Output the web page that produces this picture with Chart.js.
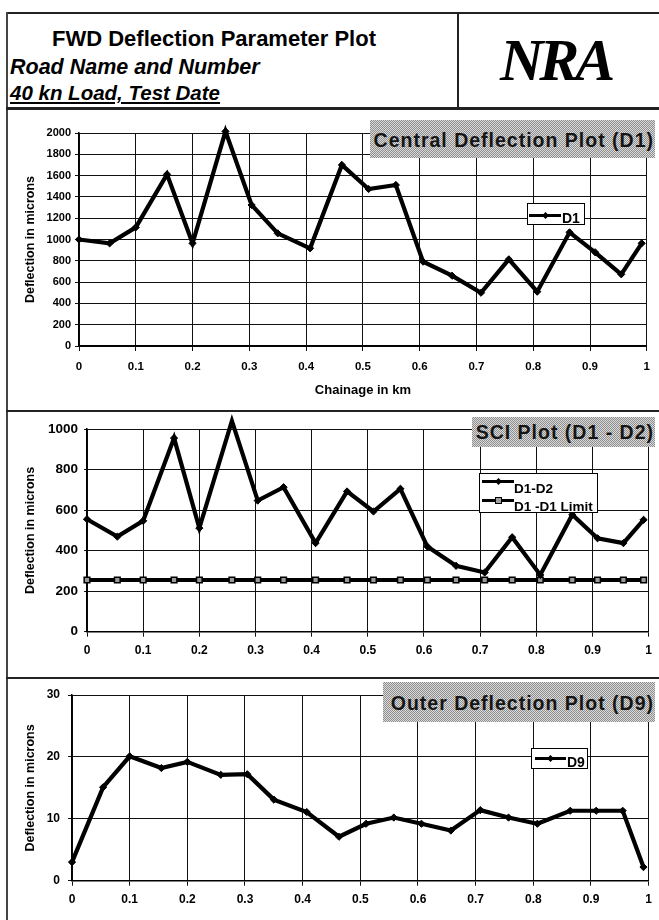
<!DOCTYPE html>
<html><head><meta charset="utf-8">
<script src="https://cdn.jsdelivr.net/npm/chart.js@4.4.0/dist/chart.umd.min.js"></script>
<style>
html,body{margin:0;padding:0;background:#fff;}
#page{position:relative;width:659px;height:920px;overflow:hidden;font-family:'Liberation Sans',Arial,sans-serif;color:#000;}
.ln{position:absolute;background:#222;}
.txt{position:absolute;white-space:nowrap;line-height:1;font-weight:bold;}
canvas{position:absolute;}
.tbox{position:absolute;z-index:5;background-color:#b4b4b4;background-image:repeating-conic-gradient(#8e8e8e 0 25%, #dadada 0 50%);background-size:2px 2px;font-weight:bold;font-size:19.5px;letter-spacing:1px;color:#151515;white-space:nowrap;display:flex;align-items:center;justify-content:flex-end;box-sizing:border-box;padding-right:1px;line-height:1;}
.leg{position:absolute;z-index:5;background:#fff;border:1px solid #000;box-sizing:border-box;}
.legline{position:absolute;height:3px;background:#000;}
.legtext{position:absolute;font-weight:bold;font-size:14px;white-space:nowrap;line-height:1;}
.mk-d{position:absolute;width:5px;height:5px;background:#000;transform:rotate(45deg);}
.mk-s{position:absolute;width:7px;height:7px;background:#a0a0a0;border:1.5px solid #000;box-sizing:border-box;}
</style></head>
<body>
<div id="page">
  <!-- frame -->
  <div class="ln" style="left:6px;top:12px;width:653px;height:2px;"></div>
  <div class="ln" style="left:6px;top:12px;width:2px;height:908px;background:#444;"></div>
  <div class="ln" style="left:457px;top:12px;width:2px;height:96px;"></div>
  <div class="ln" style="left:6px;top:107px;width:653px;height:3px;"></div>
  <div class="ln" style="left:6px;top:410px;width:653px;height:2px;"></div>
  <div class="ln" style="left:6px;top:677px;width:653px;height:2px;"></div>

  <!-- header -->
  <div class="txt" style="left:52px;top:28px;font-size:22px;">FWD Deflection Parameter Plot</div>
  <div class="txt" style="left:10px;top:57px;font-size:21.5px;font-style:italic;">Road Name and Number</div>
  <div class="txt" style="left:10px;top:83px;font-size:20.5px;font-style:italic;text-decoration:underline;text-decoration-thickness:2px;text-underline-offset:2px;">40 kn Load, Test Date</div>
  <div class="txt" style="left:500px;top:30px;font-size:60px;font-style:italic;font-family:'Liberation Serif','DejaVu Serif',serif;letter-spacing:-4px;">NRA</div>

  <canvas id="c1" width="651" height="300" style="left:8px;top:111px;"></canvas>
  <canvas id="c2" width="651" height="264" style="left:8px;top:413px;"></canvas>
  <canvas id="c3" width="651" height="241" style="left:8px;top:679px;"></canvas>

  <div class="tbox" style="left:370px;top:120px;width:285px;height:38px;padding-top:3px;">Central Deflection Plot (D1)</div>
  <div class="tbox" style="left:472px;top:417px;width:183px;height:30px;padding-top:2px;">SCI Plot (D1 - D2)</div>
  <div class="tbox" style="left:383px;top:682px;width:272px;height:40px;padding-top:3px;">Outer Deflection Plot (D9)</div>

  <div id="leg1" class="leg" style="left:527px;top:203px;width:58px;height:22px;"></div>
  <div id="leg2" class="leg" style="left:479px;top:473px;width:119px;height:40px;"></div>
  <div id="leg3" class="leg" style="left:531px;top:748px;width:57px;height:21px;"></div>
</div>
<script>
// ---- data ----
const chainage = [0, 0.054, 0.1, 0.155, 0.2, 0.258, 0.304, 0.35, 0.407, 0.463, 0.51, 0.558, 0.606, 0.657, 0.708, 0.757, 0.807, 0.864, 0.909, 0.955, 0.991];
const d1Values = [1000, 964, 1114, 1612, 964, 2015, 1324, 1058, 917, 1700, 1474, 1512, 792, 660, 500, 814, 510, 1067, 880, 673, 964];
const sciValues = [555, 469, 547, 955, 511, 1040, 647, 713, 437, 692, 593, 705, 420, 325, 292, 466, 280, 577, 461, 437, 552];
const sciLimitValues = [255, 255, 255, 255, 255, 255, 255, 255, 255, 255, 255, 255, 255, 255, 255, 255, 255, 255, 255, 255, 255];
const d9Values = [3, 15.1, 20.1, 18.2, 19.2, 17.1, 17.2, 13.1, 11.1, 7.1, 9.2, 10.2, 9.2, 8.1, 11.4, 10.2, 9.2, 11.3, 11.3, 11.3, 2.2];
const xTickLabels = ['0', '0.1', '0.2', '0.3', '0.4', '0.5', '0.6', '0.7', '0.8', '0.9', '1'];
const seriesNames = ['D1', 'D1-D2', 'D1 -D1 Limit', 'D9'];
const yAxisTitle = 'Deflection in microns';
const xAxisTitle = 'Chainage in km';

Chart.defaults.font.family = "'Liberation Sans', Arial, sans-serif";
Chart.defaults.color = '#000';

function pts(xs, ys) { return xs.map((x, i) => ({ x: x, y: ys[i] })); }

function lineSet(label, values) {
  return {
    label: label, data: pts(chainage, values), borderColor: '#000', borderWidth: 4.2,
    pointStyle: 'rectRot', pointRadius: 3.6, pointBackgroundColor: '#000', pointBorderColor: '#000',
    pointBorderWidth: 1, tension: 0, clip: false, order: 1
  };
}
function limitSet(label, values) {
  return {
    label: label, data: pts(chainage, values), borderColor: '#000', borderWidth: 4,
    pointStyle: 'rect', pointRadius: 4, pointBackgroundColor: '#9a9a9a', pointBorderColor: '#000',
    pointBorderWidth: 1.5, tension: 0, clip: false, order: 2
  };
}

function build(id, o) {
  return new Chart(document.getElementById(id), {
    type: 'line',
    data: { datasets: o.datasets },
    options: {
      responsive: false, animation: false, devicePixelRatio: 1,
      layout: { padding: { top: o.padTop, right: 6, left: 0, bottom: 0 } },
      plugins: { legend: { display: false }, tooltip: { enabled: false } },
      scales: {
        x: {
          type: 'linear', min: 0, max: 1,
          ticks: { stepSize: 0.1, autoSkip: false, maxRotation: 0, padding: o.xPad,
                   font: { size: o.xFont, weight: 'bold' }, color: '#000',
                   callback: (v) => xTickLabels[Math.round(v * 10)] },
          grid: { color: '#111', lineWidth: 1, tickLength: 5 },
          border: { color: '#000', width: 1.5 },
          title: o.xTitle ? { display: true, text: xAxisTitle, color: '#000',
                   font: { size: 13, weight: 'bold' }, padding: { top: 0, bottom: 13.2 } } : { display: false },
          afterFit: (s) => { s.height = o.xHeight; }
        },
        y: {
          min: 0, max: o.yMax,
          ticks: { stepSize: o.yStep, padding: o.yPad, font: { size: o.yFont, weight: 'bold' }, color: '#000',
                   callback: (v) => String(v) },
          grid: { color: '#111', lineWidth: 1, tickLength: o.yTl },
          border: { color: '#000', width: 1.5 },
          title: { display: true, text: yAxisTitle, color: '#000', font: { size: 12.5, weight: 'bold' },
                   padding: { top: 15.5, bottom: 0 } },
          afterFit: (s) => { s.width = o.yWidth; }
        }
      }
    }
  });
}

build('c1', { datasets: [lineSet(seriesNames[0], d1Values)], yMax: 2000, yStep: 200, yFont: 11, xFont: 11.5,
  yWidth: 71, xHeight: 65, padTop: 22, yTl: 4, yPad: 4, xPad: 9, xTitle: true });
build('c2', { datasets: [lineSet(seriesNames[1], sciValues), limitSet(seriesNames[2], sciLimitValues)], yMax: 1000, yStep: 200,
  yFont: 13.5, xFont: 12, yWidth: 79, xHeight: 45.3, padTop: 16, yTl: 3, yPad: 6, xPad: 7, xTitle: false });
build('c3', { datasets: [lineSet(seriesNames[3], d9Values)], yMax: 30, yStep: 10, yFont: 12, xFont: 12,
  yWidth: 64, xHeight: 39.3, padTop: 16, yTl: 4, yPad: 8, xPad: 7, xTitle: false });

// ---- legends ----
function legendRow(box, name, marker, lineTop, textTop, lineLeft, lineW, textLeft, fontSize) {
  const line = document.createElement('div');
  line.className = 'legline';
  line.style.left = lineLeft + 'px'; line.style.top = lineTop + 'px'; line.style.width = lineW + 'px';
  box.appendChild(line);
  const mk = document.createElement('div');
  mk.className = marker === 'square' ? 'mk-s' : 'mk-d';
  const mw = marker === 'square' ? 7 : 5;
  mk.style.left = (lineLeft + lineW / 2 - mw / 2) + 'px';
  mk.style.top = (lineTop + 1.5 - mw / 2) + 'px';
  box.appendChild(mk);
  const t = document.createElement('div');
  t.className = 'legtext';
  t.style.left = textLeft + 'px'; t.style.top = textTop + 'px';
  if (fontSize) t.style.fontSize = fontSize + 'px';
  t.textContent = name;
  box.appendChild(t);
}
legendRow(document.getElementById('leg1'), seriesNames[0], 'diamond', 9.5, 7, 1, 32, 34, 14);
legendRow(document.getElementById('leg2'), seriesNames[1], 'diamond', 5.5, 7.5, 2, 32, 34, 13.5);
legendRow(document.getElementById('leg2'), seriesNames[2], 'square', 24.5, 26, 2, 32, 34, 13.5);
legendRow(document.getElementById('leg3'), seriesNames[3], 'diamond', 7.5, 6, 3, 31, 35, 14);
</script>
</body></html>
